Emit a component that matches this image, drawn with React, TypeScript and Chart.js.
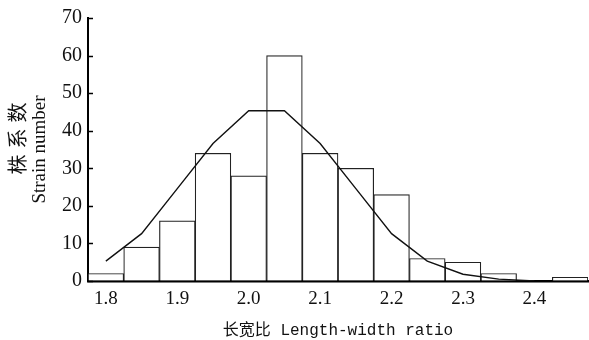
import React, { useEffect, useRef } from "react";
import { Chart, registerables } from "chart.js";

Chart.register(...registerables);

const binCenters = ["1.80", "1.85", "1.90", "1.95", "2.00", "2.05", "2.10", "2.15", "2.20", "2.25", "2.30", "2.35", "2.40", "2.45"];
const strainCounts = [2, 9, 16, 34, 28, 60, 34, 30, 23, 6, 5, 2, 0, 1];
const normalCurve = [5.3, 12.6, 24.6, 36.6, 45.3, 45.3, 36.6, 24.6, 12.6, 5.3, 1.8, 0.5, 0, null];
const xTickLabels = ["1.8", "1.9", "2.0", "2.1", "2.2", "2.3", "2.4"];
const yTicks = [0, 10, 20, 30, 40, 50, 60, 70];
const xTitle = "长宽比 Length-width ratio";
const yTitleCn = "株系数";
const yTitleEn = "Strain number";

const decorPlugin = {
  id: "decor",
  afterDraw(chart: any) {
    const { ctx, chartArea, scales } = chart;
    const y = scales.y;
    ctx.save();
    ctx.strokeStyle = "#000";
    ctx.lineWidth = 1.5;
    yTicks.forEach((v) => {
      const py = Math.round(y.getPixelForValue(v)) + 0.5;
      ctx.beginPath();
      ctx.moveTo(chartArea.left, py);
      ctx.lineTo(chartArea.left + 5, py);
      ctx.stroke();
    });
    // x title
    ctx.fillStyle = "#111";
    ctx.textAlign = "center";
    ctx.textBaseline = "middle";
    ctx.font = "16px 'Liberation Mono', 'Noto Sans CJK SC'";
    ctx.fillText(xTitle, (chartArea.left + chartArea.right) / 2, 331);
    // y titles
    const cy = (chartArea.top + chartArea.bottom) / 2;
    ctx.save();
    ctx.translate(17, cy - 11);
    ctx.rotate(-Math.PI / 2);
    ctx.font = "20px 'Noto Sans CJK SC'";
    (ctx as any).letterSpacing = "6px";
    ctx.fillText(yTitleCn, 3, 0);
    ctx.restore();
    ctx.save();
    ctx.translate(40, cy);
    ctx.rotate(-Math.PI / 2);
    ctx.font = "19px 'Liberation Serif'";
    ctx.fillText(yTitleEn, 0, 0);
    ctx.restore();
    ctx.restore();
  },
};

export default function App() {
  const ref = useRef<HTMLCanvasElement | null>(null);
  useEffect(() => {
    if (!ref.current) return;
    const chart = new Chart(ref.current, {
      type: "bar",
      data: {
        labels: binCenters,
        datasets: [
          {
            type: "line",
            data: normalCurve,
            borderColor: "#111",
            borderWidth: 1.4,
            pointRadius: 0,
            tension: 0,
            fill: false,
            order: 0,
          } as any,
          {
            type: "bar",
            data: strainCounts,
            backgroundColor: "#fff",
            borderColor: "#222",
            borderWidth: 1.2,
            barPercentage: 1,
            categoryPercentage: 1,
            order: 1,
          },
        ],
      },
      options: {
        responsive: false,
        animation: false,
        layout: { padding: { top: 15, right: 1, left: 0, bottom: 0 } },
        plugins: { legend: { display: false }, tooltip: { enabled: false }, title: { display: false } },
        scales: {
          x: {
            afterFit: (s: any) => {
              s.height = 59;
            },
            grid: { display: true, drawOnChartArea: false, drawTicks: false },
            border: { display: true, color: "#000", width: 2.5 },
            ticks: {
              autoSkip: false,
              maxRotation: 0,
              padding: 7,
              color: "#111",
              font: { family: "'Liberation Serif'", size: 19 },
              callback: (_v: any, i: number) => (i % 2 === 0 ? xTickLabels[i / 2] ?? "" : ""),
            },
          },
          y: {
            min: 0,
            max: 70,
            afterFit: (s: any) => {
              s.width = 88;
            },
            grid: { display: true, drawOnChartArea: false, drawTicks: false },
            border: { display: true, color: "#000", width: 2 },
            ticks: {
              stepSize: 10,
              padding: 6,
              color: "#111",
              font: { family: "'Liberation Serif'", size: 20 },
            },
          },
        },
      },
      plugins: [decorPlugin],
    });
    return () => chart.destroy();
  }, []);
  return (
    <div style={{ position: "fixed", left: 0, top: 0, width: 589, height: 340, background: "#fff" }}>
      <canvas ref={ref} width={589} height={340} />
    </div>
  );
}
